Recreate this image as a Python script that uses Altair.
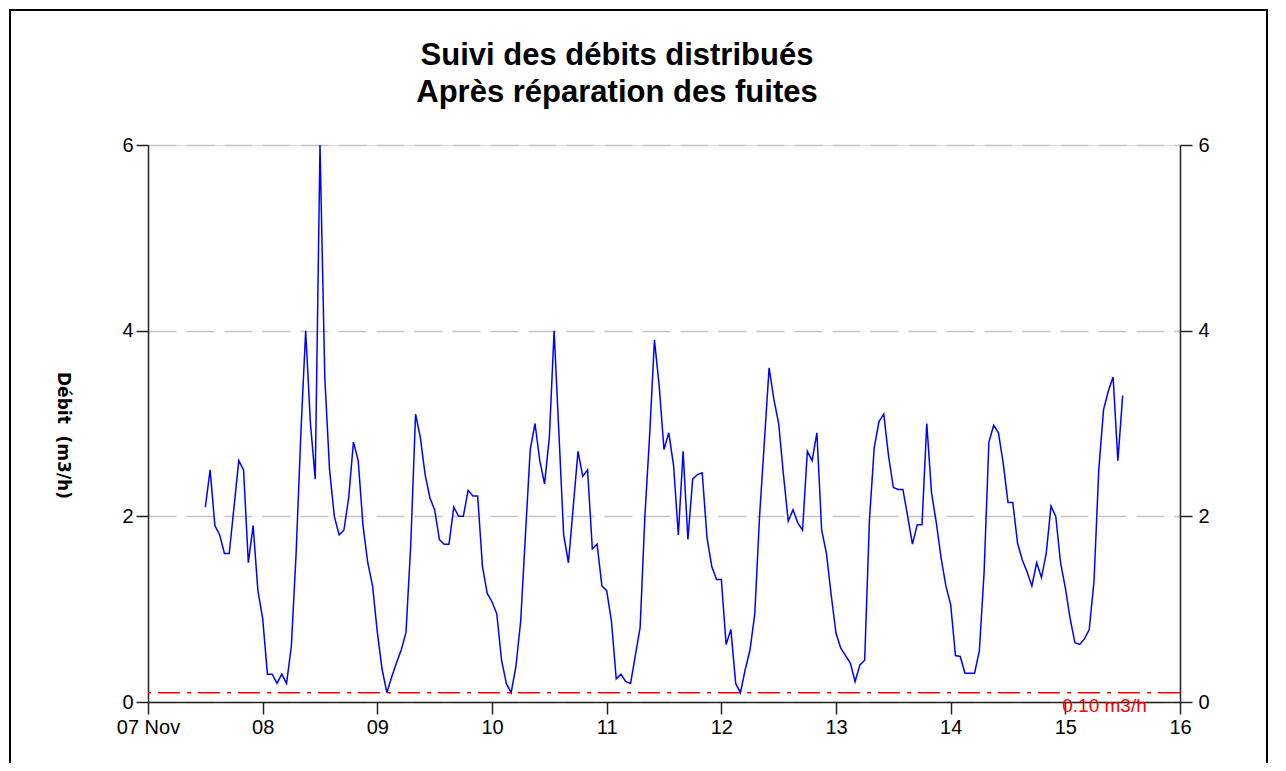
import altair as alt
import pandas as pd

# Hourly flow readings (m3/h), 07 Nov 12:00 -> 15 Nov 12:00
debit_07 = [2.1, 2.5, 1.9, 1.8, 1.6, 1.6, 2.1, 2.6, 2.5, 1.5, 1.9, 1.2]
debit_08 = [0.9, 0.3, 0.3, 0.2, 0.3, 0.2, 0.6, 1.6, 2.9, 4.0, 3.0, 2.4,
            6.0, 3.5, 2.5, 2.0, 1.8, 1.85, 2.2, 2.8, 2.6, 1.9, 1.5, 1.25]
debit_09 = [0.75, 0.35, 0.1, 0.27, 0.42, 0.56, 0.75, 1.7, 3.1, 2.85, 2.45, 2.2,
            2.07, 1.75, 1.7, 1.7, 2.1, 2.0, 2.0, 2.28, 2.22, 2.22, 1.46, 1.17]
debit_10 = [1.08, 0.95, 0.45, 0.2, 0.1, 0.38, 0.87, 1.8, 2.72, 3.0, 2.6, 2.35,
            2.85, 4.0, 2.9, 1.8, 1.5, 2.1, 2.7, 2.43, 2.5, 1.65, 1.7, 1.25]
debit_11 = [1.2, 0.87, 0.25, 0.3, 0.22, 0.2, 0.5, 0.8, 2.0, 2.88, 3.9, 3.4,
            2.72, 2.9, 2.55, 1.8, 2.7, 1.75, 2.4, 2.45, 2.47, 1.77, 1.46, 1.32]
debit_12 = [1.32, 0.62, 0.78, 0.2, 0.1, 0.35, 0.56, 0.95, 2.0, 2.8, 3.6, 3.26,
            3.0, 2.45, 1.95, 2.07, 1.93, 1.85, 2.7, 2.6, 2.9, 1.85, 1.6, 1.15]
debit_13 = [0.74, 0.58, 0.5, 0.42, 0.22, 0.4, 0.45, 1.96, 2.74, 3.02, 3.1, 2.65,
            2.31, 2.29, 2.29, 2.0, 1.7, 1.91, 1.91, 3.0, 2.25, 1.93, 1.55, 1.25]
debit_14 = [1.05, 0.5, 0.49, 0.31, 0.31, 0.31, 0.55, 1.4, 2.8, 2.98, 2.9, 2.57,
            2.15, 2.15, 1.71, 1.53, 1.4, 1.25, 1.5, 1.34, 1.6, 2.11, 2.0, 1.5]
debit_15 = [1.23, 0.9, 0.64, 0.62, 0.68, 0.78, 1.3, 2.5, 3.15, 3.35, 3.5, 2.6, 3.3]

first_hour = 12  # hours after 07 Nov 00:00
day_ticks = [0, 1, 2, 3, 4, 5, 6, 7, 8, 9]
y_ticks = [0, 2, 4, 6]
seuil = [0.1]
seuil_label = ["0.10 m3/h"]
titre = "Suivi des débits distribués\nAprès réparation des fuites"

debit = debit_07 + debit_08 + debit_09 + debit_10 + debit_11 + debit_12 + debit_13 + debit_14 + debit_15
jours = [(first_hour + i) / 24 for i in range(len(debit))]

df = pd.DataFrame({"jour": jours, "debit": debit})
df_seuil = pd.DataFrame({"seuil": seuil, "label": seuil_label, "xpos": [8.71]})
df_one = pd.DataFrame({"titre": [titre]})

W, H = 1032, 557
FONT = "Liberation Sans"

x_scale = alt.Scale(domain=[0, 9], nice=False, zero=False)
y_scale = alt.Scale(domain=[0, 6], nice=False)

x_axis = alt.Axis(
    values=day_ticks,
    labelExpr="datum.value == 0 ? '07 Nov' : (datum.value + 7 < 10 ? '0' + (datum.value + 7) : '' + (datum.value + 7))",
    title=None, grid=False, tickSize=12, labelPadding=3, labelFlush=False, labelOverlap=False,
    labelFont=FONT, labelFontSize=20, labelColor="black",
    domainColor="#222222", domainWidth=1.5, tickColor="#222222", tickWidth=1.5,
)

line = alt.Chart(df).mark_line(color="#0000ff", strokeWidth=1.5).encode(
    x=alt.X("jour:Q", scale=x_scale, axis=x_axis),
    y=alt.Y("debit:Q", scale=y_scale, axis=alt.Axis(
        values=y_ticks, title="Débit\u00a0 (m3/h)", titleAngle=90, titleX=-86, titleY=290,
        titleAlign="center", titleBaseline="middle", titleFont="DejaVu Sans",
        titleFontSize=17, titleFontWeight="bold", titleColor="black",
        grid=True, gridDash=[28, 10], gridColor="#c4c4c4", gridWidth=1.5,
        tickSize=12, labelPadding=3, labelFont=FONT, labelFontSize=20, labelColor="black",
        domainColor="#222222", domainWidth=1.5, tickColor="#222222", tickWidth=1.5,
    )),
)

rule = alt.Chart(df_seuil).mark_rule(color="#ff0000", strokeWidth=1.5, strokeDash=[22, 7, 4, 7]).encode(
    y=alt.Y("seuil:Q", scale=y_scale, axis=alt.Axis(
        orient="right", values=y_ticks, title=None, grid=False,
        tickSize=12, labelPadding=6, labelFont=FONT, labelFontSize=20, labelColor="black",
        domainColor="#222222", domainWidth=1.5, tickColor="#222222", tickWidth=1.5,
    )),
)

label = alt.Chart(df_seuil).mark_text(
    color="#ff0000", font=FONT, fontSize=19, align="right", baseline="alphabetic", dy=19
).encode(
    x=alt.X("xpos:Q", scale=x_scale, axis=x_axis),
    y=alt.Y("seuil:Q", scale=y_scale, axis=None),
    text="label:N",
)

title = alt.Chart(df_one).mark_text(
    font=FONT, fontSize=31, fontWeight="bold", color="black", align="center",
    baseline="alphabetic", lineBreak="\n", lineHeight=37
).encode(
    x=alt.value(469), y=alt.value(-80), text="titre:N"
)

frame = alt.Chart(df_one).mark_rect(filled=False, stroke="black", strokeWidth=2).encode(
    x=alt.value(-138), x2=alt.value(1119), y=alt.value(-135), y2=alt.value(700)
)

chart = alt.layer(line, rule, label, title, frame).resolve_axis(y="independent").properties(
    width=W, height=H,
    autosize=alt.AutoSizeParams(type="none"),
    padding={"left": 140, "top": 137, "right": 98, "bottom": 61},
).configure_view(stroke=None).configure(background="white")

chart.save("out.html", embed_options={"renderer": "svg", "actions": False})
